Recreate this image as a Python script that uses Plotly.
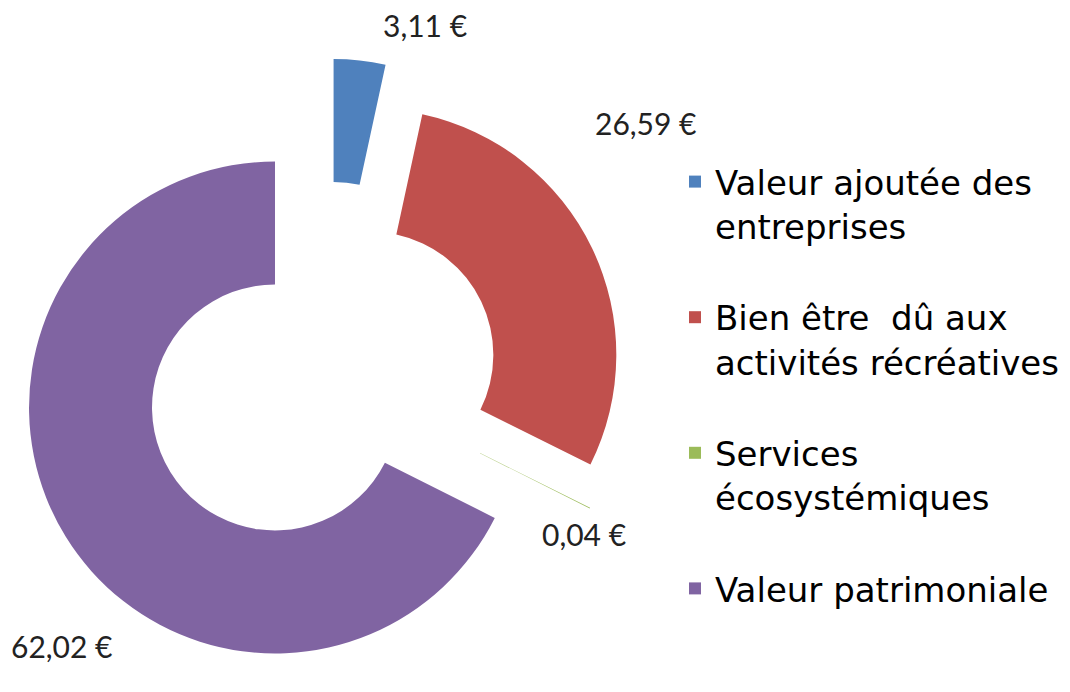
import plotly.graph_objects as go

categories = [
    "Valeur ajoutée des<br>entreprises<br> ",
    "Bien être  dû aux<br>activités récréatives<br> ",
    "Services<br>écosystémiques<br> ",
    "Valeur patrimoniale<br> <br> ",
]
values = [3.11, 26.59, 0.04, 62.02]
value_labels = ["3,11 €", "26,59 €", "0,04 €", "62,02 €"]
colors = ["#4F81BD", "#C0504D", "#9BBB59", "#8064A2"]
pulls = [0.29, 0.2, 0.2, 0.2436]

# label anchor positions in pixels (x, y from top)
label_pos = [(417, 17), (638, 115), (576, 526), (54, 638)]

W, H = 1070, 692

# pie box (pixels): centre and half size
cx, cy, half = 318.0, 368.0, 317.3

fig = go.Figure()
fig.add_trace(go.Pie(
    labels=categories,
    values=values,
    hole=0.5,
    sort=False,
    direction="clockwise",
    rotation=0,
    pull=pulls,
    marker=dict(colors=colors, line=dict(width=0)),
    textinfo="none",
    domain=dict(x=[(cx - half) / W, (cx + half) / W],
                y=[1 - (cy + half) / H, 1 - (cy - half) / H]),
    showlegend=True,
))

annotations = []
for txt, (px, py) in zip(value_labels, label_pos):
    annotations.append(dict(
        x=px / W, y=1 - py / H, xref="paper", yref="paper",
        text=txt, showarrow=False, xanchor="center", yanchor="middle",
        font=dict(family="Lato, Open Sans, sans-serif", size=30, color="#222222"),
    ))

fig.update_layout(
    width=W, height=H,
    margin=dict(l=0, r=0, t=0, b=0, autoexpand=False),
    paper_bgcolor="white",
    plot_bgcolor="white",
    annotations=annotations,
    legend=dict(
        x=667 / W, y=1 - 145 / H, xanchor="left", yanchor="top",
        font=dict(family="DejaVu Sans, Liberation Sans, Arial, sans-serif", size=34, color="black"),
        valign="top",
        bgcolor="rgba(0,0,0,0)",
        traceorder="normal",
    ),
)

fig.write_html("out.html")
